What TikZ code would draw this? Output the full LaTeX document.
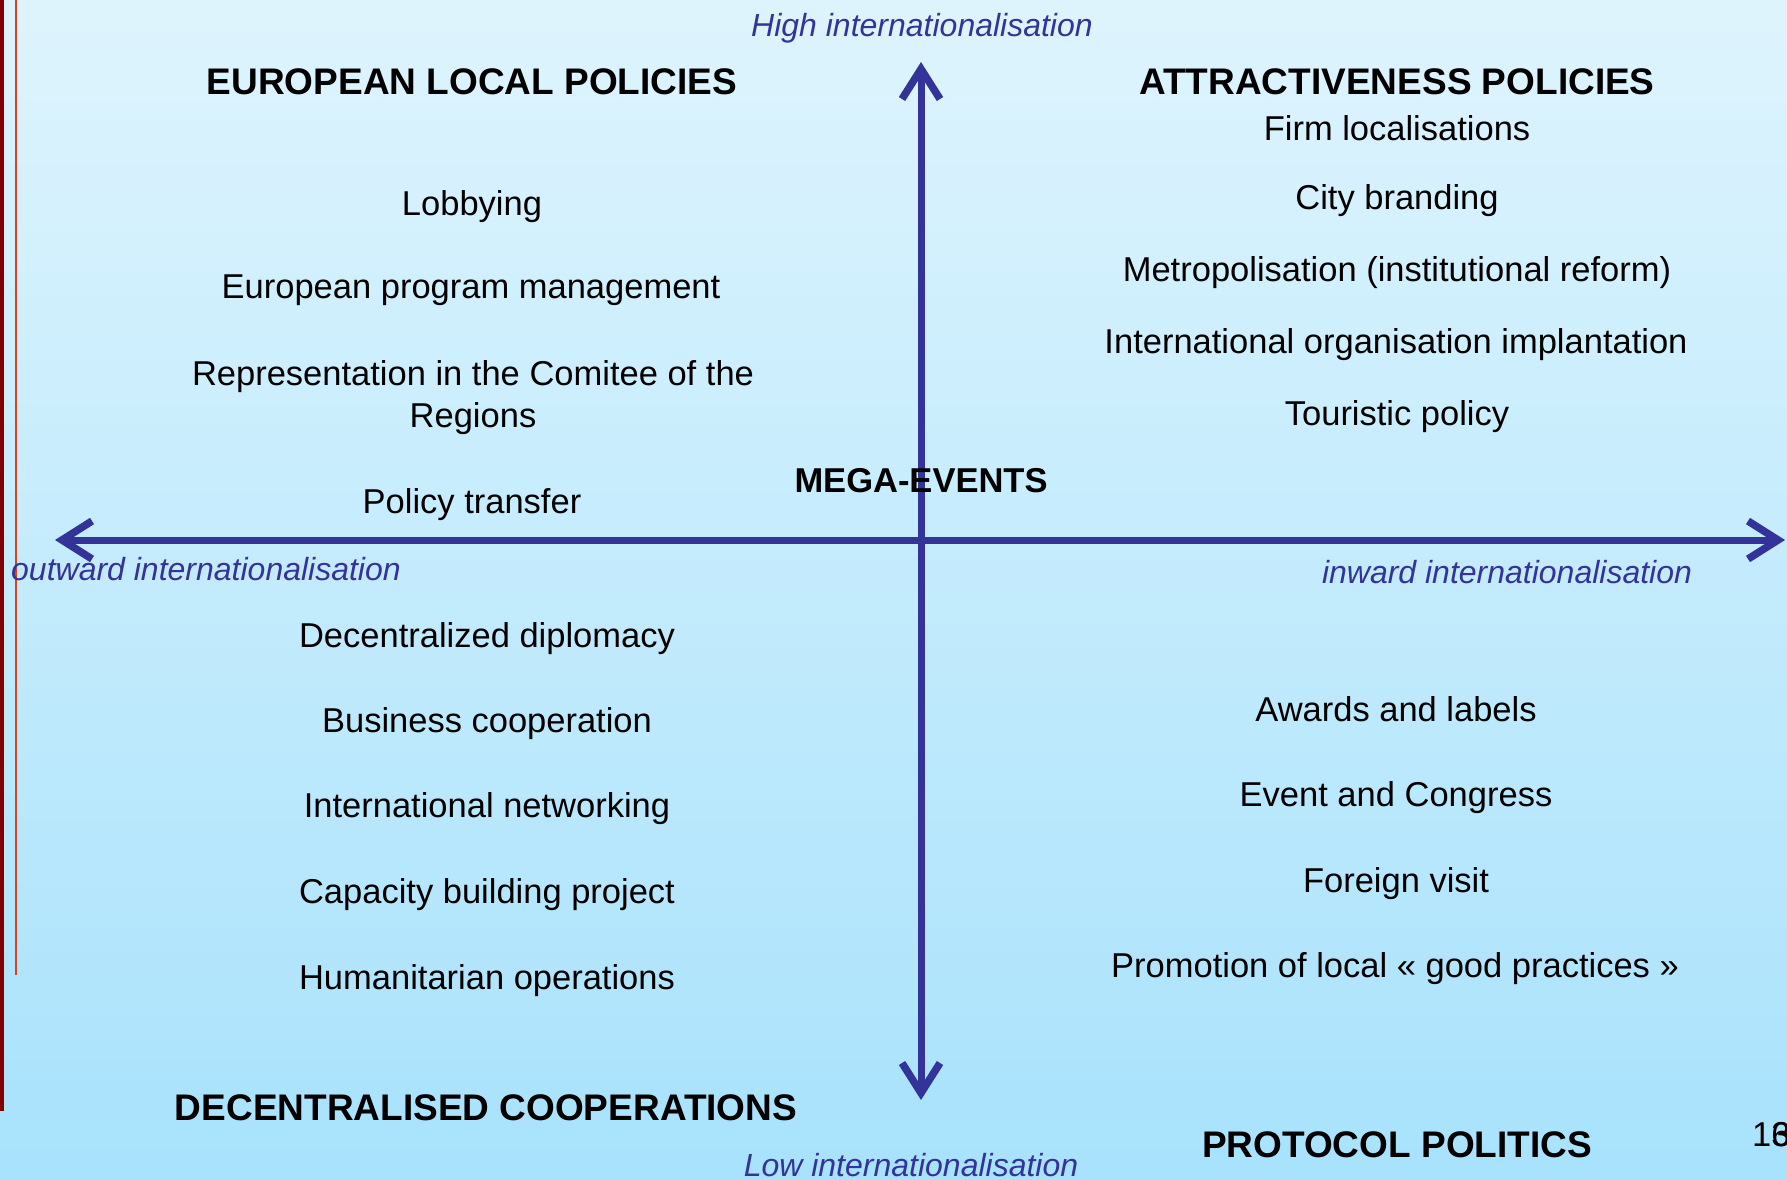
\documentclass[tikz,border=0pt]{standalone}
\usepackage{fontspec}
\setmainfont{Liberation Sans}
\usetikzlibrary{arrows.meta}
\definecolor{axisblue}{RGB}{51,51,153}
\definecolor{bgtop}{RGB}{222,244,253}
\definecolor{bgbot}{RGB}{168,226,252}
\definecolor{barred}{RGB}{128,0,0}
\definecolor{lineorange}{RGB}{214,70,30}
\tikzset{
  item/.style={font=\fontsize{34.5}{42}\selectfont, text=black, align=center, inner sep=0pt, text depth=0pt},
  title/.style={font=\fontsize{37}{44}\selectfont\bfseries, text=black, inner sep=0pt, text depth=0pt},
  axislabel/.style={font=\fontsize{32}{40}\selectfont\itshape, text=axisblue, inner sep=0pt, text depth=0pt},
  axisline/.style={draw=axisblue, line width=7pt,
    arrows={Straight Barb[length=30pt 0 0,width=38pt 0 0,line width=7.5pt]-Straight Barb[length=30pt 0 0,width=38pt 0 0,line width=7.5pt]}},
}
\begin{document}
\begin{tikzpicture}[x=1pt,y=-1pt]
\shade[top color=bgtop, bottom color=bgbot] (0,0) rectangle (1787,1179);
\useasboundingbox (0,0) rectangle (1787,1179);
% left bars
\fill[barred] (0,0) rectangle (4,1111);
\draw[lineorange, line width=2pt] (16,0) -- (16,975);
% axes
\coordinate (L) at (55,540);
\coordinate (R) at (1785,540);
\coordinate (T) at (921,62);
\coordinate (B) at (921,1100);
\draw[axisline] (L) -- (R);
\draw[axisline] (B) -- (T);
% axis labels
\node[axislabel] (high) at (922,25) {High internationalisation};
\node[axislabel] (low) at (911,1165) {Low internationalisation};
\node[axislabel, anchor=west] (out) at (11,569) {outward internationalisation};
\node[axislabel] (in) at (1507,572) {inward internationalisation};
% titles
\node[title] (t1) at (472,82) {EUROPEAN LOCAL POLICIES};
\node[title] (t2) at (1397,82) {ATTRACTIVENESS POLICIES};
\node[title] (t3) at (486,1108) {DECENTRALISED COOPERATIONS};
\node[title] (t4) at (1397,1145) {PROTOCOL POLITICS};
\node[title, font=\fontsize{34.5}{42}\selectfont\bfseries] (mega) at (921,480) {MEGA-EVENTS};
% top-left items
\node[item] (a1) at (472,203) {Lobbying};
\node[item] (a2) at (471,287) {European program management};
\node[item] (a3) at (473,394) {Representation in the Comitee of the\\Regions};
\node[item] (a4) at (472,501) {Policy transfer};
% top-right items
\node[item] (b1) at (1397,128) {Firm localisations};
\node[item] (b2) at (1397,197) {City branding};
\node[item] (b3) at (1397,269) {Metropolisation (institutional reform)};
\node[item] (b4) at (1396,341) {International organisation implantation};
\node[item] (b5) at (1397,413) {Touristic policy};
% bottom-left items
\node[item] (c1) at (487,635) {Decentralized diplomacy};
\node[item] (c2) at (487,720) {Business cooperation};
\node[item] (c3) at (487,805) {International networking};
\node[item] (c4) at (487,891) {Capacity building project};
\node[item] (c5) at (487,977) {Humanitarian operations};
% bottom-right items
\node[item] (d1) at (1396,709) {Awards and labels};
\node[item] (d2) at (1396,794) {Event and Congress};
\node[item] (d3) at (1396,880) {Foreign visit};
\node[item] (d4) at (1395,965) {Promotion of local « good practices »};
% page number
\node[item, anchor=west] (pg) at (1752,1134) {1\rlap{3}6};
\end{tikzpicture}
\end{document}
